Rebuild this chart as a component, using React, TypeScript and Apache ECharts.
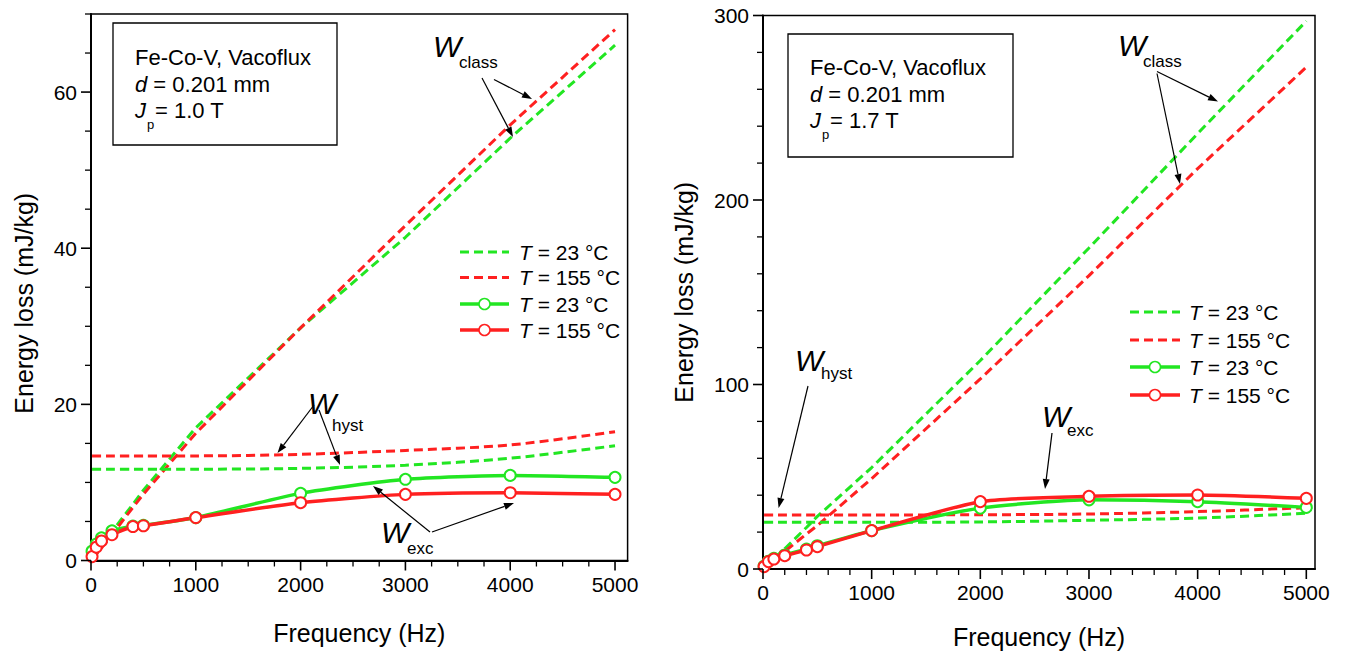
import React, { useEffect, useRef } from 'react';
import * as echarts from 'echarts';

// ---------------- data ----------------
const freqs = [10, 50, 100, 200, 400, 500, 1000, 2000, 3000, 4000, 5000];

// Left panel: Jp = 1.0 T
const leftClass23 = [0.2, 0.9, 1.8, 3.7, 7.2, 9.0, 17.0, 29.8, 41.4, 54.1, 66.0];
const leftClass155 = [0.2, 0.8, 1.6, 3.3, 6.8, 8.5, 16.3, 29.8, 42.9, 55.8, 68.0];
const leftHyst23 = [11.7, 11.7, 11.7, 11.7, 11.7, 11.7, 11.7, 11.8, 12.2, 13.1, 14.7];
const leftHyst155 = [13.4, 13.4, 13.4, 13.4, 13.4, 13.4, 13.4, 13.6, 14.1, 14.8, 16.5];
const leftExc23 = [1.2, 2.1, 2.9, 3.8, 4.4, 4.5, 5.5, 8.6, 10.4, 10.9, 10.65];
const leftExc155 = [0.5, 1.7, 2.5, 3.3, 4.35, 4.45, 5.5, 7.4, 8.47, 8.68, 8.47];

// Right panel: Jp = 1.7 T
const rightClass23 = [0.6, 2.8, 5.5, 11, 22.5, 28.5, 55, 113, 174, 236, 297];
const rightClass155 = [0.5, 2.4, 4.8, 9.5, 19, 23.5, 49, 103, 159, 217, 272];
const rightHyst23 = [25.3, 25.3, 25.3, 25.3, 25.3, 25.3, 25.3, 25.5, 26.4, 27.6, 30.2];
const rightHyst155 = [29.3, 29.3, 29.3, 29.3, 29.3, 29.3, 29.3, 29.4, 29.8, 31.1, 33.2];
const rightExc23 = [1.5, 4.2, 5.8, 7.6, 10.8, 12.6, 20.8, 33.0, 37.5, 36.5, 33.4];
const rightExc155 = [1.3, 4.0, 5.4, 7.2, 10.3, 12.1, 20.8, 36.5, 39.4, 40.1, 38.3];

// axis ticks and labels
const xTickLabels = [0, 1000, 2000, 3000, 4000, 5000];
const leftXMinor = [250, 500, 750, 1250, 1500, 1750, 2250, 2500, 2750, 3250, 3500, 3750, 4250, 4500, 4750];
const rightXMinor = [200, 400, 600, 800, 1200, 1400, 1600, 1800, 2200, 2400, 2600, 2800, 3200, 3400, 3600, 3800, 4200, 4400, 4600, 4800];
const leftYTickLabels = [0, 20, 40, 60];
const leftYMinor = [5, 10, 15, 25, 30, 35, 45, 50, 55, 65, 70];
const rightYTickLabels = [0, 100, 200, 300];
const rightYMinor = [20, 40, 60, 80, 120, 140, 160, 180, 220, 240, 260, 280];

const legendLabels = ['23', '155', '23', '155'];

const GREEN = '#22e622';
const RED = '#ff2020';
const FONT = "'Liberation Sans', Arial, Helvetica, sans-serif";
const MAJOR_LEN = 10;
const MINOR_LEN = 6;

function pairs(xs: number[], ys: number[]) {
  return xs.map((x, i) => [x, ys[i]]);
}

function dashed(name: string, data: number[], color: string, xi: number, yi: number, smooth: boolean) {
  return {
    name,
    type: 'line',
    xAxisIndex: xi,
    yAxisIndex: yi,
    data: pairs(freqs, data),
    symbol: 'none',
    showSymbol: false,
    smooth: smooth ? 0.3 : false,
    lineStyle: { color, width: 3, type: [9, 5] },
    z: 2,
  };
}

function solid(name: string, data: number[], color: string, xi: number, yi: number) {
  return {
    name,
    type: 'line',
    xAxisIndex: xi,
    yAxisIndex: yi,
    data: pairs(freqs, data),
    symbol: 'emptyCircle',
    symbolSize: 11,
    showSymbol: true,
    smooth: 0.2,
    lineStyle: { color, width: 3.5 },
    itemStyle: { color, borderColor: color, borderWidth: 1.5 },
    z: 3,
  };
}

// tick marks drawn through the axes' own scales (api.coord)
function tickSeries(xi: number, yi: number, xMajor: number[], xMinor: number[], yMajor: number[], yMinor: number[]) {
  const data: number[][] = [];
  xMajor.forEach((v) => data.push([v, MAJOR_LEN, 0]));
  xMinor.forEach((v) => data.push([v, MINOR_LEN, 0]));
  yMajor.forEach((v) => data.push([v, MAJOR_LEN, 1]));
  yMinor.forEach((v) => data.push([v, MINOR_LEN, 1]));
  return {
    type: 'custom',
    name: 'ticks',
    xAxisIndex: xi,
    yAxisIndex: yi,
    silent: true,
    clip: false,
    z: 5,
    data,
    renderItem: (params: any, api: any) => {
      const v = api.value(0);
      const len = api.value(1);
      const dir = api.value(2);
      const w = len === MAJOR_LEN ? 1.6 : 1.3;
      if (dir === 0) {
        const p = api.coord([v, 0]);
        return { type: 'line', shape: { x1: p[0], y1: p[1], x2: p[0], y2: p[1] + len }, style: { stroke: '#000', lineWidth: w } };
      }
      const p = api.coord([0, v]);
      return { type: 'line', shape: { x1: p[0], y1: p[1], x2: p[0] - len, y2: p[1] }, style: { stroke: '#000', lineWidth: w } };
    },
  };
}

function labelFmt(list: number[]) {
  return (v: number) => (list.indexOf(v) >= 0 ? String(v) : '');
}

function mainX(grid: number, max: number, gap: number) {
  return {
    type: 'value',
    gridIndex: grid,
    min: 0,
    max,
    interval: 1000,
    position: 'bottom',
    axisLine: { show: true, onZero: false, lineStyle: { color: '#000', width: 2 } },
    axisTick: { show: false },
    axisLabel: { show: true, formatter: labelFmt(xTickLabels), color: '#000', fontSize: 21, fontFamily: FONT, margin: 13, hideOverlap: false },
    splitLine: { show: false },
    name: 'Frequency (Hz)',
    nameLocation: 'middle',
    nameGap: gap,
    nameTextStyle: { color: '#000', fontSize: 25, fontFamily: FONT },
  };
}

function mainY(grid: number, max: number, step: number, labels: number[], gap: number, pad: number[]) {
  return {
    type: 'value',
    gridIndex: grid,
    min: 0,
    max,
    interval: step,
    position: 'left',
    axisLine: { show: true, onZero: false, lineStyle: { color: '#000', width: 2 } },
    axisTick: { show: false },
    axisLabel: { show: true, formatter: labelFmt(labels), color: '#000', fontSize: 21, fontFamily: FONT, margin: 14, hideOverlap: false },
    splitLine: { show: false },
    name: 'Energy loss (mJ/kg)',
    nameLocation: 'middle',
    nameGap: gap,
    nameTextStyle: { color: '#000', fontSize: 25, fontFamily: FONT, padding: pad },
  };
}

function arrow(x1: number, y1: number, x2: number, y2: number) {
  const dx = x2 - x1;
  const dy = y2 - y1;
  const L = Math.sqrt(dx * dx + dy * dy);
  const ux = dx / L;
  const uy = dy / L;
  const hl = 10;
  const hw = 3.5;
  const bx = x2 - ux * hl;
  const by = y2 - uy * hl;
  return [
    { type: 'line', shape: { x1, y1, x2: bx, y2: by }, style: { stroke: '#000', lineWidth: 1.2 }, z: 100 },
    {
      type: 'polygon',
      shape: { points: [[x2, y2], [bx - uy * hw, by + ux * hw], [bx + uy * hw, by - ux * hw]] },
      style: { fill: '#000' },
      z: 100,
    },
  ];
}

function txt(x: number, y: number, text: string, size: number, italic = false) {
  return {
    type: 'text',
    x,
    y,
    z: 100,
    style: {
      text,
      fill: '#000',
      fontSize: size,
      fontFamily: FONT,
      fontStyle: italic ? 'italic' : 'normal',
      align: 'left',
      verticalAlign: 'middle',
    },
  };
}

function richTxt(x: number, y: number, italicPart: string, rest: string, size: number) {
  return {
    type: 'text',
    x,
    y,
    z: 100,
    style: {
      text: `{i|${italicPart}}{n|${rest}}`,
      fill: '#000',
      fontSize: size,
      fontFamily: FONT,
      align: 'left',
      verticalAlign: 'middle',
      rich: {
        i: { fontStyle: 'italic', fontSize: size, fontFamily: FONT, fill: '#000' },
        n: { fontSize: size, fontFamily: FONT, fill: '#000' },
      },
    },
  };
}

function wLabel(x: number, y: number, sub: string, sx: number, sy: number) {
  return [txt(x, y, 'W', 30, true), txt(sx, sy, sub, 17)];
}

function infoBox(x: number, y: number, w: number, h: number, tx: number, l1: number, l2: number, l3: number, jp: string) {
  return [
    { type: 'rect', shape: { x, y, width: w, height: h }, style: { fill: 'none', stroke: '#000', lineWidth: 1.3 }, z: 100 },
    txt(tx, l1, 'Fe-Co-V, Vacoflux', 22),
    richTxt(tx, l2, 'd', ' = 0.201 mm', 22),
    txt(tx, l3, 'J', 22, true),
    txt(tx + 20, l3, `= ${jp} T`, 22),
    txt(tx + 12, l3 + 14, 'p', 13),
  ];
}

function legendBlock(x0: number, x1: number, xt: number, rows: number[]) {
  const els: any[] = [];
  const colors = [GREEN, RED, GREEN, RED];
  rows.forEach((ry, i) => {
    const isDash = i < 2;
    els.push({
      type: 'line',
      shape: { x1: x0, y1: ry, x2: x1, y2: ry },
      style: { stroke: colors[i], lineWidth: isDash ? 3 : 3.5, lineDash: isDash ? [9, 5] : null },
      z: 100,
    });
    if (!isDash) {
      els.push({
        type: 'circle',
        shape: { cx: (x0 + x1) / 2, cy: ry, r: 5.5 },
        style: { fill: '#fff', stroke: colors[i], lineWidth: 1.5 },
        z: 101,
      });
    }
    els.push(richTxt(xt, ry, 'T', ` = ${legendLabels[i]} °C`, 21));
  });
  return els;
}

export default function App() {
  const ref = useRef<HTMLDivElement>(null);

  useEffect(() => {
    if (!ref.current) return;
    const chart = echarts.init(ref.current, null, { renderer: 'svg' });

    const graphic: any[] = [
      ...infoBox(113, 23, 224, 122, 135, 57, 84, 110, '1.0'),
      ...infoBox(788, 34, 225, 123, 810, 67, 94, 120, '1.7'),
      ...legendBlock(460, 509, 519, [252, 277.5, 304, 330]),
      ...legendBlock(1130, 1180, 1189, [312, 340, 367, 395]),
      ...wLabel(433, 46, 'class', 459, 62),
      ...wLabel(308, 403, 'hyst', 332, 425),
      ...wLabel(381, 532, 'exc', 407, 548),
      ...wLabel(1118, 45, 'class', 1143, 61),
      ...wLabel(795, 360, 'hyst', 821, 373),
      ...wLabel(1042, 416, 'exc', 1067, 430),
      ...arrow(494, 79.5, 532, 99),
      ...arrow(482, 78, 513, 137),
      ...arrow(314, 405, 277.5, 453),
      ...arrow(319, 410, 340, 465),
      ...arrow(430, 532, 373, 486),
      ...arrow(432, 532, 514, 503),
      ...arrow(1157, 71.5, 1218, 101.5),
      ...arrow(1157, 73.5, 1180, 184),
      ...arrow(808, 386, 778.6, 508),
      ...arrow(1052, 433, 1045, 489),
    ];

    chart.setOption({
      animation: false,
      backgroundColor: '#fff',
      textStyle: { fontFamily: FONT },
      grid: [
        { left: 91, top: 14, width: 536.6, height: 546.5, show: true, borderColor: '#000', borderWidth: 1.5, backgroundColor: 'transparent' },
        { left: 763, top: 15.5, width: 552, height: 553.5, show: true, borderColor: '#000', borderWidth: 1.5, backgroundColor: 'transparent' },
      ],
      xAxis: [mainX(0, 5120, 60), mainX(1, 5080, 55)],
      yAxis: [
        mainY(0, 70, 20, leftYTickLabels, 55, [0, 32, 0, 0]),
        mainY(1, 300, 100, rightYTickLabels, 67, [0, 0, 0, 0]),
      ],
      series: [
        dashed('L class 23', leftClass23, GREEN, 0, 0, false),
        dashed('L class 155', leftClass155, RED, 0, 0, false),
        dashed('L hyst 23', leftHyst23, GREEN, 0, 0, true),
        dashed('L hyst 155', leftHyst155, RED, 0, 0, true),
        solid('L exc 23', leftExc23, GREEN, 0, 0),
        solid('L exc 155', leftExc155, RED, 0, 0),
        dashed('R class 23', rightClass23, GREEN, 1, 1, false),
        dashed('R class 155', rightClass155, RED, 1, 1, false),
        dashed('R hyst 23', rightHyst23, GREEN, 1, 1, true),
        dashed('R hyst 155', rightHyst155, RED, 1, 1, true),
        solid('R exc 23', rightExc23, GREEN, 1, 1),
        solid('R exc 155', rightExc155, RED, 1, 1),
        tickSeries(0, 0, xTickLabels, leftXMinor, leftYTickLabels, leftYMinor),
        tickSeries(1, 1, xTickLabels, rightXMinor, rightYTickLabels, rightYMinor),
      ],
      graphic,
    });

    return () => chart.dispose();
  }, []);

  return (
    <div
      ref={ref}
      style={{ position: 'fixed', left: 0, top: 0, width: 1349, height: 656, background: '#fff' }}
    />
  );
}
